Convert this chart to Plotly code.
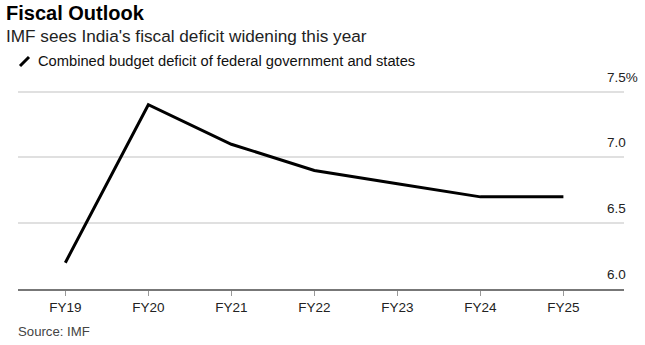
import plotly.graph_objects as go

years = ["FY19", "FY20", "FY21", "FY22", "FY23", "FY24", "FY25"]
deficit = [6.2, 7.4, 7.1, 6.9, 6.8, 6.7, 6.7]
y_ticks = [6.0, 6.5, 7.0, 7.5]
y_tick_labels = ["6.0", "6.5", "7.0", "7.5%"]

W, H = 645, 345
L, R, T, B = 18, 21, 85, 56
pw, ph = W - L - R, H - T - B


def px(x):
    return (x - L) / pw


def py(y):
    return (H - B - y) / ph


fig = go.Figure()
fig.add_trace(go.Scatter(
    x=list(range(len(years))), y=deficit, mode="lines",
    line=dict(color="#000000", width=3), hoverinfo="skip", showlegend=False,
))

font = "Liberation Sans, Arial, sans-serif"
annotations = []
for v, lab in zip(y_ticks, y_tick_labels):
    annotations.append(dict(
        x=px(605), xref="paper", y=v, yref="y", text=lab, showarrow=False,
        xanchor="left", yanchor="bottom", yshift=5,
        font=dict(family=font, size=13.5, color="#222")))

annotations += [
    dict(x=px(4), y=py(13), xref="paper", yref="paper", text="<b>Fiscal Outlook</b>",
         showarrow=False, xanchor="left", yanchor="middle",
         font=dict(family=font, size=20, color="#000")),
    dict(x=px(4), y=py(36), xref="paper", yref="paper",
         text="IMF sees India's fiscal deficit widening this year",
         showarrow=False, xanchor="left", yanchor="middle",
         font=dict(family=font, size=17.2, color="#222")),
    dict(x=px(36), y=py(61), xref="paper", yref="paper",
         text="Combined budget deficit of federal government and states",
         showarrow=False, xanchor="left", yanchor="middle",
         font=dict(family=font, size=14.7, color="#111")),
    dict(x=px(16), y=py(331), xref="paper", yref="paper", text="Source: IMF",
         showarrow=False, xanchor="left", yanchor="middle",
         font=dict(family=font, size=13.2, color="#444")),
]

shapes = [dict(type="line", xref="paper", yref="paper",
               x0=px(20), y0=py(66), x1=px(29), y1=py(57),
               line=dict(color="#000", width=3))]

fig.update_layout(
    width=W, height=H, margin=dict(l=L, r=R, t=T, b=B),
    paper_bgcolor="white", plot_bgcolor="white",
    annotations=annotations, shapes=shapes,
    xaxis=dict(range=[-0.57, 6.73], tickvals=list(range(len(years))), ticktext=years,
               showgrid=False, zeroline=False, showline=True, linecolor="#777",
               linewidth=2, ticks="outside", ticklen=5, tickcolor="#999", tickwidth=1,
               tickfont=dict(family=font, size=13.5, color="#222"), fixedrange=True),
    yaxis=dict(range=[6.0, 7.55], tickvals=y_ticks, showticklabels=False,
               showgrid=True, gridcolor="#e0e0e0", gridwidth=1.5, zeroline=False,
               showline=False, fixedrange=True),
)

fig.write_html("out.html")
